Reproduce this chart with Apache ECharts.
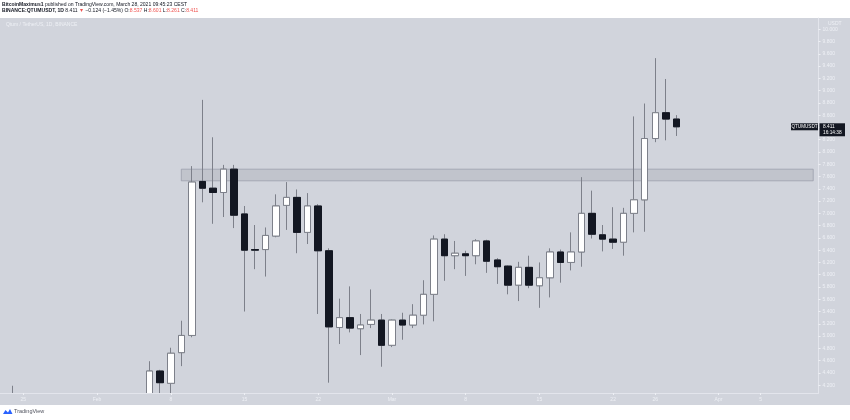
<!DOCTYPE html>
<html><head><meta charset="utf-8">
<script src="https://cdn.jsdelivr.net/npm/echarts@6/dist/echarts.min.js"></script>
<style>html,body{margin:0;padding:0;background:#fff}#c{width:850px;height:420px}</style>
</head><body><div id="c"></div>
<script>
// axis categories (daily, Jan 23 – Apr 10, 2021)
const categories = [
 '2021-01-23','2021-01-24','2021-01-25','2021-01-26','2021-01-27','2021-01-28','2021-01-29','2021-01-30','2021-01-31',
 '2021-02-01','2021-02-02','2021-02-03','2021-02-04','2021-02-05','2021-02-06','2021-02-07','2021-02-08','2021-02-09','2021-02-10',
 '2021-02-11','2021-02-12','2021-02-13','2021-02-14','2021-02-15','2021-02-16','2021-02-17','2021-02-18','2021-02-19','2021-02-20',
 '2021-02-21','2021-02-22','2021-02-23','2021-02-24','2021-02-25','2021-02-26','2021-02-27','2021-02-28',
 '2021-03-01','2021-03-02','2021-03-03','2021-03-04','2021-03-05','2021-03-06','2021-03-07','2021-03-08','2021-03-09','2021-03-10',
 '2021-03-11','2021-03-12','2021-03-13','2021-03-14','2021-03-15','2021-03-16','2021-03-17','2021-03-18','2021-03-19','2021-03-20',
 '2021-03-21','2021-03-22','2021-03-23','2021-03-24','2021-03-25','2021-03-26','2021-03-27','2021-03-28','2021-03-29','2021-03-30','2021-03-31',
 '2021-04-01','2021-04-02','2021-04-03','2021-04-04','2021-04-05','2021-04-06','2021-04-07','2021-04-08','2021-04-09','2021-04-10'
];
// candle dates and OHLC values
const candleDates = [
 '2021-01-24',
 '2021-02-06','2021-02-07','2021-02-08','2021-02-09','2021-02-10','2021-02-11','2021-02-12','2021-02-13','2021-02-14','2021-02-15',
 '2021-02-16','2021-02-17','2021-02-18','2021-02-19','2021-02-20','2021-02-21','2021-02-22','2021-02-23','2021-02-24','2021-02-25',
 '2021-02-26','2021-02-27','2021-02-28','2021-03-01','2021-03-02','2021-03-03','2021-03-04','2021-03-05','2021-03-06','2021-03-07',
 '2021-03-08','2021-03-09','2021-03-10','2021-03-11','2021-03-12','2021-03-13','2021-03-14','2021-03-15','2021-03-16','2021-03-17',
 '2021-03-18','2021-03-19','2021-03-20','2021-03-21','2021-03-22','2021-03-23','2021-03-24','2021-03-25','2021-03-26','2021-03-27','2021-03-28'
];
const openP  = [3.95, 4.00,4.43,4.23,4.73,5.01,7.52,7.41,7.34,7.72,6.99, 6.41,6.41,6.63,7.13,7.26,6.69,7.12,6.39,5.14,5.30,
 5.12,5.19,5.26,4.85,5.26,5.18,5.34,5.68,6.58,6.31, 6.34,6.31,6.55,6.24,6.14,5.83,6.12,5.82,5.95,6.37, 6.20,6.37,7.00,6.65,6.58,6.53,7.00,7.22,8.22,8.64,8.537];
const closeP = [3.90, 4.43,4.24,4.72,5.01,7.51,7.41,7.34,7.72,6.97,6.40, 6.40,6.64,7.12,7.26,6.69,7.12,6.39,5.15,5.30,5.13,
 5.18,5.26,4.85,5.26,5.18,5.34,5.68,6.58,6.31,6.35, 6.31,6.55,6.22,6.13,5.83,6.12,5.83,5.95,6.37,6.20, 6.37,7.00,6.66,6.58,6.53,7.00,7.22,8.22,8.64,8.537,8.411];
const lowP   = [3.80, 3.92,4.02,4.05,4.51,4.98,7.18,6.83,6.94,6.76,5.40, 6.09,5.97,6.61,6.73,6.35,6.50,5.36,4.24,4.87,5.06,
 4.69,5.13,4.50,4.82,4.94,5.13,5.19,5.24,5.90,6.09, 5.98,6.17,6.03,5.85,5.68,5.57,5.78,5.46,5.63,5.87, 6.07,6.13,6.59,6.38,6.42,6.31,6.69,6.70,8.16,8.19,8.261];
const highP  = [4.19, 4.59,4.45,4.81,5.25,7.77,8.85,8.24,7.79,7.79,7.12, 6.81,6.77,7.31,7.51,7.39,7.33,7.15,6.43,5.61,5.81,
 5.36,5.76,5.36,5.27,5.38,5.52,5.91,6.64,6.66,6.55, 6.39,6.58,6.57,6.27,6.15,6.21,6.31,6.20,6.43,6.41, 6.69,7.59,7.37,6.81,7.10,7.09,8.58,8.79,9.53,9.19,8.601];
// resistance zone
const zoneFrom = '2021-02-09', zoneTo = '2021-04-10';
const zoneLow = 7.53, zoneHigh = 7.72;
// tick labels on time axis
const tickDates = ['2021-01-25','2021-02-01','2021-02-08','2021-02-15','2021-02-22','2021-03-01','2021-03-08','2021-03-15','2021-03-22','2021-03-26','2021-04-01','2021-04-05'];
const tickTexts = ['25','Feb','8','15','22','Mar','8','15','22','26','Apr','5'];
const yMin = 4.072, yMax = 10.184;
const lastClose = closeP[closeP.length - 1];

const tickMap = {};
tickDates.forEach((d, i) => tickMap[d] = tickTexts[i]);
const full = categories.map(d => {
  const i = candleDates.indexOf(d);
  return i < 0 ? '-' : [openP[i], closeP[i], lowP[i], highP[i]];
});
const bodies = categories.map(d => {
  const i = candleDates.indexOf(d);
  return i < 0 ? '-' : [openP[i], closeP[i], Math.min(openP[i], closeP[i]), Math.max(openP[i], closeP[i])];
});

const FONT = 'Liberation Sans';
const LIGHT = '#eef0f5';
const BG = '#d1d4dc';
const chart = echarts.init(document.getElementById('c'), null, {renderer: 'canvas'});
const isTick = (idx, val) => tickMap[val] !== undefined;

chart.setOption({
  animation: false,
  backgroundColor: '#ffffff',
  textStyle: {fontFamily: FONT},
  grid: {left: -3, top: 18, width: 821.5, height: 375, containLabel: false, outerBoundsMode: 'none'},
  xAxis: {
    type: 'category', data: categories, boundaryGap: true, z: 20,
    axisLine: {show: true, lineStyle: {color: '#e3e5ec', width: 1}},
    axisTick: {show: true, interval: isTick, alignWithLabel: true, length: 2, lineStyle: {color: LIGHT}},
    axisLabel: {interval: isTick, formatter: v => tickMap[v] || '', color: LIGHT, fontSize: 5, margin: 4, fontFamily: FONT},
    splitLine: {show: false}
  },
  yAxis: {
    type: 'value', position: 'right', min: yMin, max: yMax, splitNumber: 30, scale: true, z: 20,
    axisLine: {show: true, lineStyle: {color: '#e3e5ec', width: 1}},
    axisTick: {show: true, length: 2, lineStyle: {color: LIGHT}},
    axisLabel: {color: LIGHT, fontSize: 5, margin: 4, fontFamily: FONT, showMinLabel: false, showMaxLabel: false,
      formatter: v => v.toFixed(3)},
    splitLine: {show: false}
  },
  graphic: [
    {type: 'rect', z: -10, silent: true, shape: {x: 0, y: 18, width: 850, height: 387}, style: {fill: BG}},
    {type: 'rect', z: 10, silent: true, shape: {x: 0, y: 393.5, width: 850, height: 11.5}, style: {fill: BG}},
    {type: 'rect', z: 10, silent: true, shape: {x: 0, y: 405, width: 850, height: 15}, style: {fill: '#ffffff'}},
    {type: 'text', z: 30, x: 2, y: 5, style: {
      text: '{b|BitcoinMaximus1} published on TradingView.com, March 28, 2021 09:45:23 CEST',
      fontSize: 5.05, fontFamily: FONT, fill: '#131722', verticalAlign: 'middle',
      rich: {b: {fontWeight: 'bold', fontSize: 5.05, fontFamily: FONT, fill: '#131722'}}}},
    {type: 'text', z: 30, x: 2, y: 11, style: {
      text: '{b|BINANCE:QTUMUSDT, 1D} 8.411 {r|▼} −0.124 (−1.45%) O:{r|8.537} H:{r|8.601} L:{r|8.261} C:{r|8.411}',
      fontSize: 5.05, fontFamily: FONT, fill: '#131722', verticalAlign: 'middle',
      rich: {b: {fontWeight: 'bold', fontSize: 5.05, fontFamily: FONT, fill: '#131722'},
             r: {fontSize: 5.05, fontFamily: FONT, fill: '#ef5350'}}}},
    {type: 'text', z: 30, x: 6, y: 24.3, style: {text: 'Qtum / TetherUS, 1D, BINANCE', fontSize: 5, fontFamily: FONT, fill: LIGHT, verticalAlign: 'middle'}},
    {type: 'text', z: 30, x: 828, y: 23.3, style: {text: 'USDT', fontSize: 5, fontFamily: FONT, fill: LIGHT, verticalAlign: 'middle'}},
    {type: 'polygon', z: 30, shape: {points: [[3, 414], [5.5, 410], [8, 412.5], [10, 409], [12.5, 414]]}, style: {fill: '#2962ff'}},
    {type: 'text', z: 30, x: 14, y: 411.5, style: {text: 'TradingView', fontSize: 5.5, fontFamily: FONT, fill: '#50535e', verticalAlign: 'middle'}}
  ],
  series: [
    {
      type: 'candlestick', data: full, barWidth: 7, clip: true,
      itemStyle: {color: '#ffffff', color0: '#131722', borderColor: '#7d808a', borderColor0: '#7d808a', borderWidth: 1},
      markArea: {silent: true, itemStyle: {color: 'rgba(150,153,166,0.28)', borderColor: 'rgba(150,153,166,0.7)', borderWidth: 1},
        data: [[{xAxis: zoneFrom, yAxis: zoneLow}, {xAxis: zoneTo, yAxis: zoneHigh}]]}
    },
    {
      type: 'candlestick', data: bodies, barWidth: 7, clip: true, z: 3,
      itemStyle: {color: '#ffffff', color0: '#131722', borderColor: '#7d808a', borderColor0: '#131722', borderWidth: 1}
    }
  ]
});

const py = chart.convertToPixel({yAxisIndex: 0}, lastClose);
chart.setOption({
  graphic: [
    {id: 'symBox', type: 'rect', z: 40, shape: {x: 791, y: py - 3.5, width: 27, height: 7}, style: {fill: '#131722'}},
    {id: 'symTxt', type: 'text', z: 41, x: 804.5, y: py, style: {text: 'QTUMUSDT', fontSize: 4.6, fontFamily: FONT, fill: '#ffffff', align: 'center', verticalAlign: 'middle'}},
    {id: 'pxBox', type: 'rect', z: 40, shape: {x: 819.5, y: py - 3.5, width: 25.5, height: 13}, style: {fill: '#131722'}},
    {id: 'pxTxt', type: 'text', z: 41, x: 823, y: py, style: {text: lastClose.toFixed(3), fontSize: 4.8, fontFamily: FONT, fill: '#ffffff', verticalAlign: 'middle'}},
    {id: 'cdTxt', type: 'text', z: 41, x: 823, y: py + 6, style: {text: '16:14:38', fontSize: 4.8, fontFamily: FONT, fill: '#ffffff', verticalAlign: 'middle'}}
  ]
});
</script></body></html>
